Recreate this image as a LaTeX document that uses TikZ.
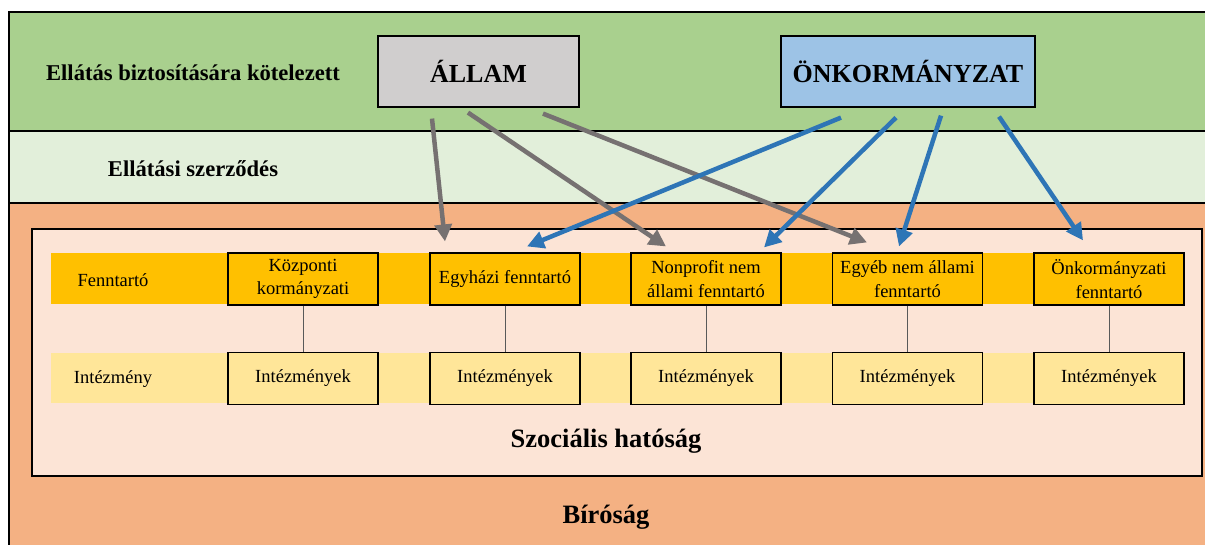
\documentclass[tikz,border=0pt]{standalone}
\usepackage{fontspec}
\setmainfont{Liberation Serif}
\usetikzlibrary{arrows.meta,calc}
\definecolor{bandgreen}{HTML}{A9D08E}
\definecolor{bandlight}{HTML}{E2EFDA}
\definecolor{bandorange}{HTML}{F4B183}
\definecolor{innerpeach}{HTML}{FCE4D6}
\definecolor{fennc}{HTML}{FFC000}
\definecolor{intc}{HTML}{FFE699}
\definecolor{allamc}{HTML}{D0CECE}
\definecolor{onkc}{HTML}{9DC3E6}
\definecolor{arrgray}{HTML}{767171}
\definecolor{arrblue}{HTML}{2E75B6}
\begin{document}
\begin{tikzpicture}[x=1pt,y=-1pt,
  band/.style={draw=black,line width=2pt},
  bandlabel/.style={font=\bfseries\fontsize{22.6}{26}\selectfont,inner sep=0pt},
  biglabel/.style={font=\bfseries\fontsize{26.5}{30}\selectfont,inner sep=0pt},
  titlebox/.style={draw=black,line width=1.2pt,minimum height=71pt,inner sep=0pt,font=\bfseries\fontsize{26}{30}\selectfont},
  fbox/.style={draw=black,line width=1.1pt,fill=fennc,minimum width=150pt,minimum height=52pt,inner sep=0pt,align=center,font=\fontsize{18.5}{23.5}\selectfont},
  ibox/.style={fbox,fill=intc},
  rowlabel/.style={font=\fontsize{18.5}{22}\selectfont,inner sep=0pt},
  garrow/.style={draw=arrgray,line width=4.5pt,-{Triangle[length=17pt,width=17pt]}},
  barrow/.style={draw=arrblue,line width=4.5pt,-{Triangle[length=17pt,width=17pt]}},
  vlink/.style={draw=black!65,line width=1pt}]
\useasboundingbox (0,0) rectangle (1205,545);
\fill[white] (0,0) rectangle (1205,545);
% bands
\draw[band,fill=bandorange] (9,203) rectangle (1212,552);
\draw[band,fill=bandlight] (9,131) rectangle (1212,203);
\draw[band,fill=bandgreen] (9,12) rectangle (1212,131);
% inner box
\draw[band,fill=innerpeach] (32,229) rectangle (1202,476);
\fill[fennc] (51,253) rectangle (1184,304);
\fill[intc] (51,353) rectangle (1184,403);
% labels
\node[bandlabel] (lab1) at (193,73) {Ellátás biztosítására kötelezett};
\node[bandlabel] (lab2) at (193,169) {Ellátási szerződés};
\node[biglabel] (szoc) at (606,441) {Szociális hatóság};
\node[biglabel] (bir) at (606,517) {Bíróság};
\node[rowlabel] (lfenn) at (113,280) {Fenntartó};
\node[rowlabel] (linte) at (113,379) {Intézmény};
% title boxes
\node[titlebox,fill=allamc,minimum width=201pt] (allam) at (478.5,71.5) {ÁLLAM};
\node[titlebox,fill=onkc,minimum width=254pt] (onk) at (908,71.5) {ÖNKORMÁNYZAT};
% fenntarto boxes
\node[fbox] (kozp) at (303,279) {Központi\\kormányzati};
\node[fbox] (egyh) at (505,279) {Egyházi fenntartó};
\node[fbox] (nonp) at (706,279) {Nonprofit nem\\állami fenntartó};
\node[fbox] (egyeb) at (907.5,279) {Egyéb nem állami\\fenntartó};
\node[fbox] (onkf) at (1109,279) {Önkormányzati\\fenntartó};
% intezmeny boxes
\node[ibox] (i1) at (303,378.5) {Intézmények};
\node[ibox] (i2) at (505,378.5) {Intézmények};
\node[ibox] (i3) at (706,378.5) {Intézmények};
\node[ibox] (i4) at (907.5,378.5) {Intézmények};
\node[ibox] (i5) at (1109,378.5) {Intézmények};
\foreach \a/\b in {kozp/i1,egyh/i2,nonp/i3,egyeb/i4,onkf/i5}
  \draw[vlink] (\a.south) -- (\b.north);
% arrows from ÁLLAM
\draw[garrow] ($(allam.south)+(-46.5,11)$) -- ($(egyh.north)+(-60,-11)$);
\draw[garrow] ($(allam.south)+(-10.5,5)$) -- ($(nonp.north)+(-40,-6)$);
\draw[garrow] ($(allam.south)+(64.5,6)$) -- ($(egyeb.north)+(-40.5,-10)$);
% arrows from ÖNKORMÁNYZAT
\draw[barrow] ($(onk.south)+(-67,10)$) -- ($(egyh.north)+(22,-6)$);
\draw[barrow] ($(onk.south)+(-12,10)$) -- ($(nonp.north)+(58,-5)$);
\draw[barrow] ($(onk.south)+(33,8)$) -- ($(egyeb.north)+(-8.5,-6)$);
\draw[barrow] ($(onk.south)+(91,9)$) -- ($(onkf.north)+(-26,-12)$);
\end{tikzpicture}
\end{document}
